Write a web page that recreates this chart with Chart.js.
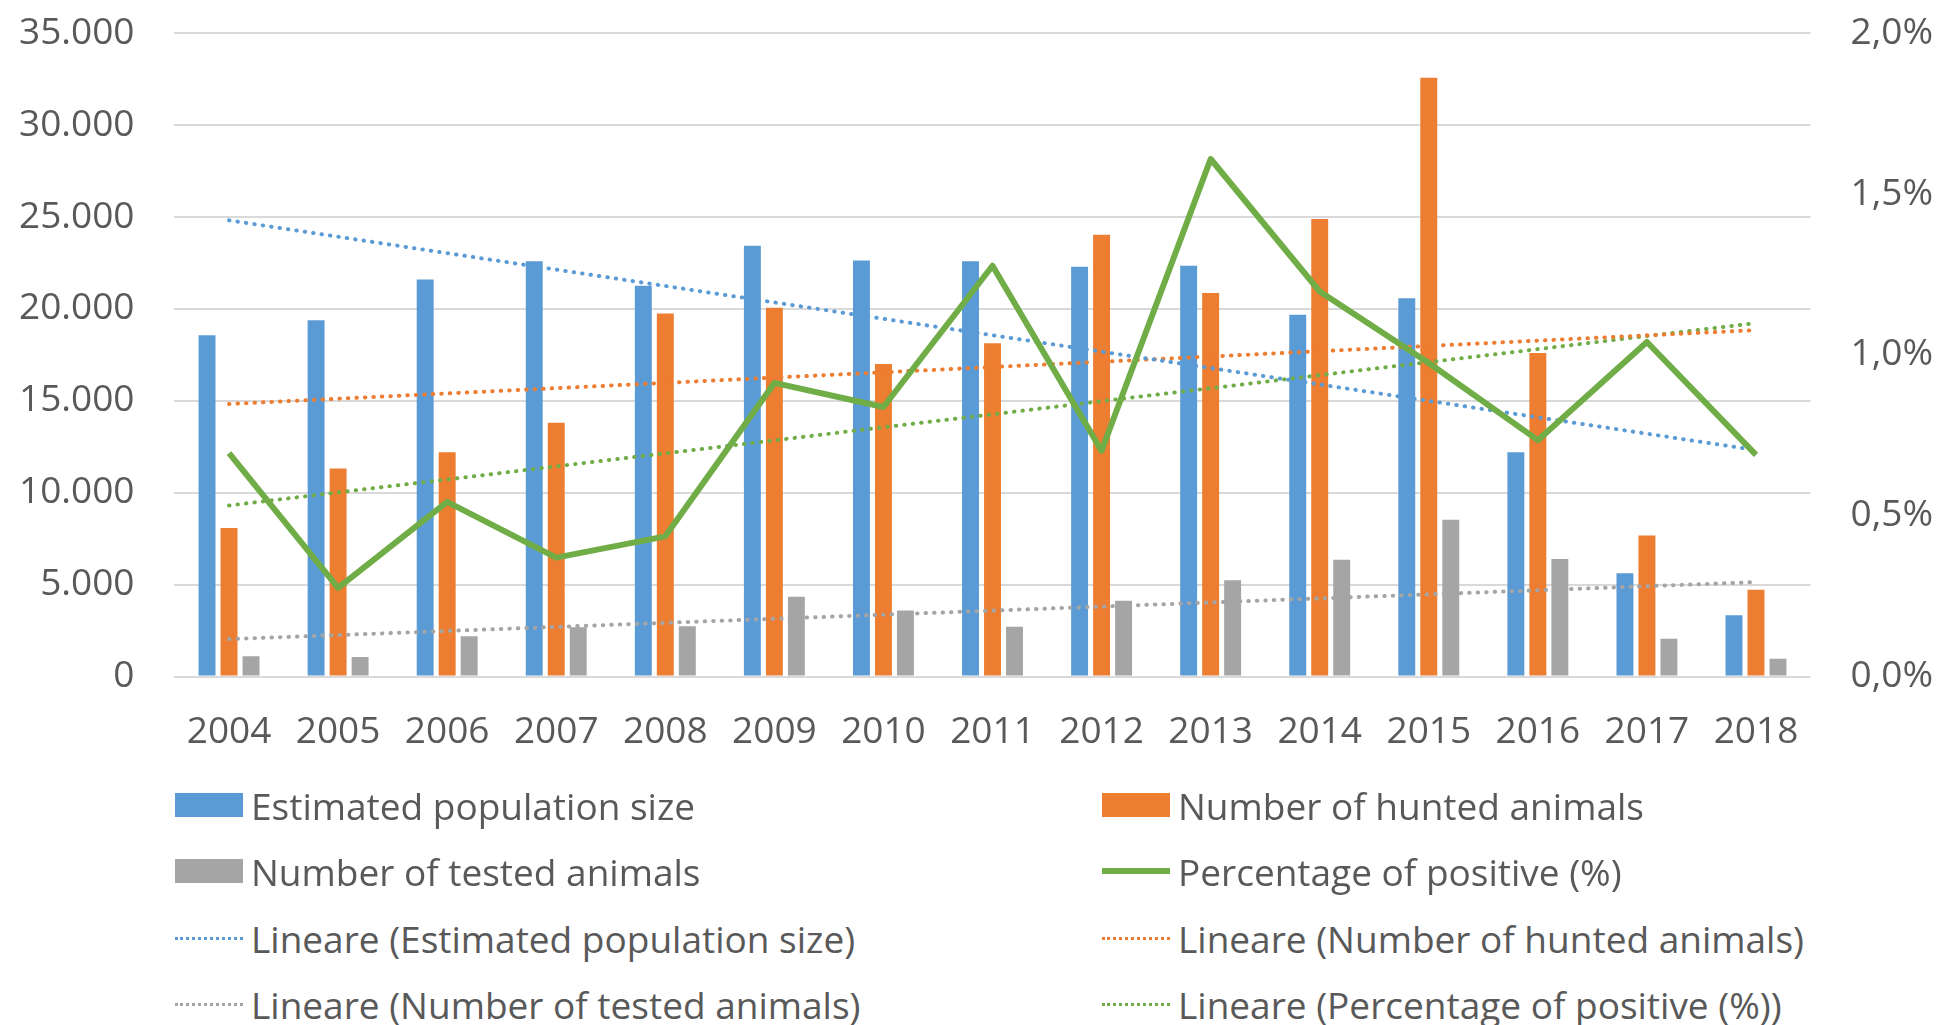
<!DOCTYPE html>
<html>
<head>
<meta charset="utf-8">
<script src="https://cdn.jsdelivr.net/npm/chart.js"></script>
<style>
  body { margin: 0; background: #fff; font-family: "Open Sans", sans-serif; overflow: hidden; }
  #wrap { position: relative; width: 1939px; height: 1025px; overflow: hidden; }
  #chart { position: absolute; left: -37px; top: -29px; }
  .leg { position: absolute; display: flex; align-items: center; color: #595959; font-size: 37px; white-space: nowrap; }
  .leg .sw { width: 68px; height: 24px; margin-right: 8px; flex: none; }
</style>
</head>
<body>
<div id="wrap">
  <canvas id="chart" width="2016" height="824"></canvas>
  <div id="legend"></div>
</div>

<script>
const years = ['2004', '2005', '2006', '2007', '2008', '2009', '2010', '2011', '2012', '2013', '2014', '2015', '2016', '2017', '2018'];

const population = [18570, 19390, 21600, 22590, 21260, 23440, 22640, 22590, 22300, 22350, 19680, 20580, 12210, 5620, 3340];
const hunted = [8090, 11320, 12210, 13810, 19750, 20070, 17010, 18130, 24040, 20870, 24890, 32570, 17600, 7680, 4730];
const tested = [1110, 1070, 2200, 2690, 2740, 4340, 3590, 2710, 4120, 5240, 6350, 8530, 6400, 2060, 970];
const positive = [0.695, 0.276, 0.543, 0.370, 0.436, 0.913, 0.838, 1.277, 0.702, 1.609, 1.197, 0.975, 0.735, 1.040, 0.689];

// Excel linear trendlines, ends (2004 and 2018)
const trendPopulation = [24820, null, null, null, null, null, null, null, null, null, null, null, null, null, 12320];
const trendHunted = [14830, null, null, null, null, null, null, null, null, null, null, null, null, null, 18850];
const trendTested = [2040, null, null, null, null, null, null, null, null, null, null, null, null, null, 5140];
const trendPositive = [0.532, null, null, null, null, null, null, null, null, null, null, null, null, null, 1.099];

const leftTicks = [0, 5000, 10000, 15000, 20000, 25000, 30000, 35000];
const rightTicks = [0, 0.5, 1.0, 1.5, 2.0];

const BLUE = '#5B9BD5', ORANGE = '#ED7D31', GREY = '#A5A5A5', GREEN = '#70AD47';
const TEXT = '#595959';

function thousands(v) {
  return String(v).replace(/\B(?=(\d{3})+(?!\d))/g, '.');
}

function bar(label, data, color) {
  return {
    type: 'bar', label, data, backgroundColor: color, borderWidth: 0,
    yAxisID: 'y', order: 2, categoryPercentage: 0.605, barPercentage: 0.77
  };
}

function trend(label, data, color, axis) {
  return {
    type: 'line', label, data, borderColor: color, borderWidth: 4,
    borderDash: [0.5, 8], borderCapStyle: 'round', pointRadius: 0,
    spanGaps: true, fill: false, yAxisID: axis, order: 1, isTrend: true
  };
}

const datasets = [
  bar('Estimated population size', population, BLUE),
  bar('Number of hunted animals', hunted, ORANGE),
  bar('Number of tested animals', tested, GREY),
  {
    type: 'line', label: 'Percentage of positive (%)', data: positive,
    borderColor: GREEN, borderWidth: 6, pointRadius: 0, fill: false,
    borderJoinStyle: 'round', yAxisID: 'y1', order: 0
  },
  trend('Lineare (Estimated population size)', trendPopulation, BLUE, 'y'),
  trend('Lineare (Number of hunted animals)', trendHunted, ORANGE, 'y'),
  trend('Lineare (Number of tested animals)', trendTested, GREY, 'y'),
  trend('Lineare (Percentage of positive (%))', trendPositive, GREEN, 'y1')
];

const font = { family: '"Open Sans", sans-serif', size: 37 };

const chart = new Chart(document.getElementById('chart').getContext('2d'), {
  data: { labels: years, datasets },
  options: {
    responsive: false,
    animation: false,
    layout: { padding: { left: 16, right: 6, top: 10, bottom: 6 } },
    plugins: { legend: { display: false }, tooltip: { enabled: false } },
    scales: {
      x: {
        offset: true,
        grid: { display: false, drawTicks: false },
        border: { display: false },
        ticks: { color: TEXT, font, padding: 34, maxRotation: 0, autoSkip: false }
      },
      y: {
        min: 0, max: 35000,
        afterBuildTicks: s => { s.ticks = leftTicks.map(v => ({ value: v })); },
        grid: { color: '#D9D9D9', lineWidth: 2, drawTicks: false },
        border: { display: false },
        ticks: { color: TEXT, font, padding: 40, callback: v => thousands(v) }
      },
      y1: {
        position: 'right', min: 0, max: 2,
        afterBuildTicks: s => { s.ticks = rightTicks.map(v => ({ value: v })); },
        grid: { display: false, drawTicks: false },
        border: { display: false },
        ticks: { color: TEXT, font, padding: 40, callback: v => v.toFixed(1).replace('.', ',') + '%' }
      }
    }
  }
});

// legend in two columns, like the original
const legend = document.getElementById('legend');
const colX = [175, 1102];
const rowY = [805, 871, 938, 1004];
datasets.forEach((ds, i) => {
  const item = document.createElement('div');
  item.className = 'leg';
  item.style.left = colX[i % 2] + 'px';
  item.style.top = (rowY[Math.floor(i / 2)] - 26) + 'px';
  item.style.height = '52px';
  const sw = document.createElement('div');
  sw.className = 'sw';
  if (ds.type === 'bar') {
    sw.style.background = ds.backgroundColor;
  } else if (ds.isTrend) {
    sw.style.height = '0';
    sw.style.borderTop = '3px dotted ' + ds.borderColor;
  } else {
    sw.style.height = '6px';
    sw.style.background = ds.borderColor;
  }
  item.appendChild(sw);
  const t = document.createElement('span');
  t.textContent = ds.label;
  item.appendChild(t);
  legend.appendChild(item);
});
</script>
</body>
</html>
